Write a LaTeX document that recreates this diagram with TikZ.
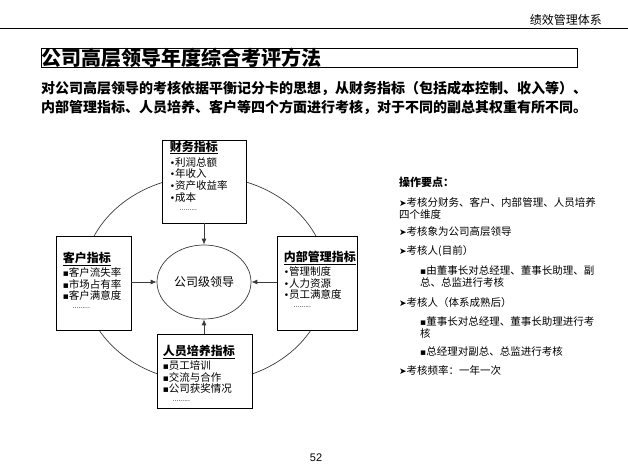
\documentclass[tikz,border=0pt]{standalone}
\usepackage{fontspec}
\setmainfont{Noto Sans CJK SC}
\newfontfamily\symfont{DejaVu Sans}
\newfontfamily\numfont{Liberation Sans}
\usetikzlibrary{arrows.meta,positioning,shapes.geometric}
\definecolor{ink}{HTML}{000000}
\definecolor{rim}{HTML}{3A3A3A}
\newcommand{\rdbul}{{\symfont\fontsize{9}{9}\selectfont •}}
\newcommand{\sqbul}{{\symfont\fontsize{9}{9}\selectfont ▪}}
\newcommand{\arrbul}{{\symfont\fontsize{9}{9}\selectfont ➤}}
\newcommand{\cardhead}[1]{\underline{\fontsize{12}{14}\selectfont\bfseries #1}}
\newcommand{\carddots}{\hspace*{10pt}{\symfont\fontsize{6}{6}\selectfont .........}}
\tikzset{
  card/.style={draw=ink, line width=0.8pt, fill=white, inner sep=0pt},
  cardtext/.style={inner sep=0pt, align=left, font=\fontsize{10.5}{11.8}\selectfont, text=ink},
  flow/.style={-{Latex[length=6pt,width=5pt]}, line width=0.8pt, draw=rim},
  tip/.style={anchor=west, inner sep=0pt, align=left, font=\fontsize{10.5}{12}\selectfont, text=ink}
}
\begin{document}
\begin{tikzpicture}[x=1pt,y=-1pt]
\useasboundingbox (0,0) rectangle (628,470);

% Header and title
\node[anchor=east, inner sep=0pt, font=\fontsize{12}{14}\selectfont] (hdr) at (602,20) {绩效管理体系};
\draw[line width=1pt] (0,29) -- (628,29);
\node[draw=ink, line width=1pt, minimum width=536pt, minimum height=19pt, inner sep=0pt, anchor=north west] (ttlbox) at (41,48) {};
\node[anchor=west, inner sep=0pt, font=\fontsize{20}{22}\selectfont\bfseries] (ttl) at (ttlbox.west) {公司高层领导年度综合考评方法};
\node[anchor=west, inner sep=0pt, align=left, font=\fontsize{14}{19}\selectfont\bfseries] (intro) at (41,97.5) {对公司高层领导的考核依据平衡记分卡的思想，从财务指标（包括成本控制、收入等）、\\内部管理指标、人员培养、客户等四个方面进行考核，对于不同的副总其权重有所不同。};

% Ring and centre
\node[draw=rim, line width=0.7pt, ellipse, minimum width=244pt, minimum height=206pt] (ring) at (205,279) {};
\node[draw=rim, line width=0.7pt, ellipse, minimum width=94pt, minimum height=74pt, inner sep=0pt, font=\fontsize{12}{14}\selectfont] (lead) at (204,282) {公司级领导};

% Four cards
\node[card, minimum width=84pt, minimum height=83pt] (fin) at (204,181.5) {};
\node[card, minimum width=75pt, minimum height=94pt] (cust) at (93.5,283) {};
\node[card, minimum width=80pt, minimum height=94pt] (intl) at (317,283) {};
\node[card, minimum width=95pt, minimum height=74pt] (staff) at (204.5,371) {};

\node[cardtext, below right=1pt and 8pt of fin.north west] (fintxt) {\cardhead{财务指标}\\[2pt]\rdbul 利润总额\\\rdbul 年收入\\\rdbul 资产收益率\\\rdbul 成本\\[-3pt]\carddots};
\node[cardtext, below right=16pt and 7pt of cust.north west] (custtxt) {\cardhead{客户指标}\\[1pt]\sqbul 客户流失率\\\sqbul 市场占有率\\\sqbul 客户满意度\\[-3pt]\carddots};
\node[cardtext, below right=15pt and 7pt of intl.north west] (intltxt) {\cardhead{内部管理指标}\\[1pt]\rdbul 管理制度\\\rdbul 人力资源\\\rdbul 员工满意度\\[-3pt]\carddots};
\node[cardtext, below right=11pt and 6pt of staff.north west] (stafftxt) {\cardhead{人员培养指标}\\[1pt]\sqbul 员工培训\\\sqbul 交流与合作\\\sqbul 公司获奖情况\\[-3pt]\carddots};

\draw[flow] (fin.south) -- (lead.north);
\draw[flow] (cust.east |- lead.west) -- (lead.west);
\draw[flow] (intl.west |- lead.east) -- (lead.east);
\draw[flow] (lead.south |- staff.north) -- (lead.south);

% Key points
\node[tip, font=\fontsize{11}{13}\selectfont\bfseries] (keys) at (399,182) {操作要点：};
\node[tip] (tipa) at (399,208) {\arrbul 考核分财务、客户、内部管理、人员培养\\四个维度};
\node[tip] (tipb) at (399,232) {\arrbul 考核象为公司高层领导};
\node[tip] (tipc) at (399,251) {\arrbul 考核人(目前）};
\node[tip] (tipd) at (420,276.5) {\sqbul 由董事长对总经理、董事长助理、副\\总、总监进行考核};
\node[tip] (tipe) at (399,303) {\arrbul 考核人（体系成熟后）};
\node[tip] (tipf) at (420,327.5) {\sqbul 董事长对总经理、董事长助理进行考\\核};
\node[tip] (tipg) at (420,352) {\sqbul 总经理对副总、总监进行考核};
\node[tip] (tiph) at (399,370) {\arrbul 考核频率：一年一次};

\node[font=\numfont\fontsize{11}{13}\selectfont] (pg) at (316,458) {52};
\end{tikzpicture}
\end{document}
